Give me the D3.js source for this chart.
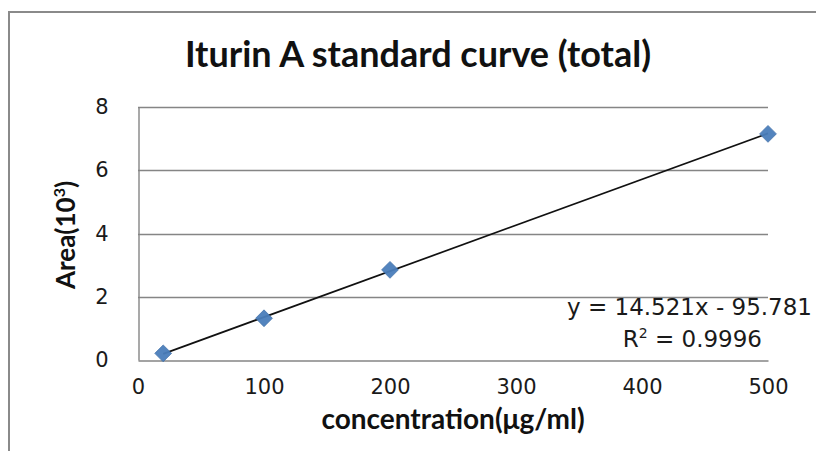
<!DOCTYPE html>
<html><head><meta charset="utf-8">
<script src="https://cdn.jsdelivr.net/npm/d3@7"></script>
<style>html,body{margin:0;padding:0;background:#fff;}svg{display:block;}</style>
</head><body>
<script>
const concentration = [20, 100, 200, 500];
const area = [0.21, 1.32, 2.85, 7.15];
const xTicks = [0, 100, 200, 300, 400, 500];
const yTicks = [0, 2, 4, 6, 8];
const slope = 14.521, intercept = -95.781;
const titleText = "Iturin A standard curve (total)";
const xTitle = "concentration(μg/ml)";
const eqText = "y = 14.521x - 95.781";
const r2Value = "0.9996";

const W = 816, H = 451;
const svg = d3.select("body").append("svg").attr("width", W).attr("height", H);
svg.append("rect").attr("width", W).attr("height", H).attr("fill", "#fff");
// outer frame (extends beyond right/bottom)
svg.append("rect").attr("x", 9).attr("y", 12).attr("width", W + 20).attr("height", H + 20)
  .attr("fill", "none").attr("stroke", "#8a8a8a").attr("stroke-width", 2);

const x = d3.scaleLinear().domain([0, 500]).range([138, 768]);
const y = d3.scaleLinear().domain([0, 8]).range([360, 107]);

// gridlines
svg.append("g").selectAll("line").data(yTicks.filter(d => d > 0)).join("line")
  .attr("x1", x(0)).attr("x2", x(500)).attr("y1", d => Math.round(y(d)) + 0.5).attr("y2", d => Math.round(y(d)) + 0.5)
  .attr("stroke", "#858585").attr("stroke-width", 1.4);

// axes
const xAxis = svg.append("g").attr("transform", `translate(0,${Math.round(y(0)) + 0.5})`)
  .call(d3.axisBottom(x).tickValues(xTicks).tickSize(0).tickPadding(19).tickFormat(d3.format("d")));
xAxis.select(".domain").attr("stroke", "#858585").attr("stroke-width", 1.4);
xAxis.selectAll("text").attr("font-family", "DejaVu Sans, Verdana, sans-serif").attr("font-size", 21).attr("fill", "#1a1a1a");

const yAxis = svg.append("g").attr("transform", `translate(${Math.round(x(0)) + 0.5},0)`)
  .call(d3.axisLeft(y).tickValues(yTicks).tickSize(0).tickPadding(30).tickFormat(d3.format("d")));
yAxis.select(".domain").attr("stroke", "#858585").attr("stroke-width", 1.4);
yAxis.selectAll("text").attr("font-family", "DejaVu Sans, Verdana, sans-serif").attr("font-size", 21).attr("fill", "#1a1a1a");

// trendline
svg.append("line")
  .attr("x1", x(d3.min(concentration))).attr("y1", y((slope * d3.min(concentration) + intercept) / 1000))
  .attr("x2", x(d3.max(concentration))).attr("y2", y((slope * d3.max(concentration) + intercept) / 1000))
  .attr("stroke", "#111").attr("stroke-width", 1.7);

// markers
const diamond = d3.symbol().type(d3.symbolDiamond2).size(180);
svg.append("g").selectAll("path").data(concentration.map((c, i) => [c, area[i]])).join("path")
  .attr("d", diamond).attr("transform", d => `translate(${x(d[0])},${y(d[1])})`)
  .attr("fill", "#4a7ebb").attr("stroke", "#3f6fa8").attr("stroke-width", 0.8).attr("opacity", 0.95);

// title
svg.append("text").attr("x", 418).attr("y", 67).attr("text-anchor", "middle")
  .attr("font-family", "Lato, Calibri, sans-serif").attr("font-weight", "bold").attr("font-size", 36)
  .attr("fill", "#111").text(titleText);

// x title
svg.append("text").attr("x", 453).attr("y", 429).attr("text-anchor", "middle")
  .attr("font-family", "Lato, Calibri, sans-serif").attr("font-weight", "bold").attr("font-size", 28)
  .attr("fill", "#111").text(xTitle);

// y title
const yt = svg.append("text").attr("transform", "translate(75,235) rotate(-90)").attr("text-anchor", "middle")
  .attr("font-family", "Lato, Calibri, sans-serif").attr("font-weight", "bold").attr("font-size", 26).attr("fill", "#111");
yt.append("tspan").text("Area(10");
yt.append("tspan").attr("font-size", 16).attr("dy", -10).text("3");
yt.append("tspan").attr("dy", 10).text(")");

// equation
svg.append("text").attr("x", 812).attr("y", 315).attr("text-anchor", "end")
  .attr("font-family", "DejaVu Sans, Verdana, sans-serif").attr("font-size", 23).attr("fill", "#1a1a1a").text(eqText);
const r2 = svg.append("text").attr("x", 762).attr("y", 347).attr("text-anchor", "end")
  .attr("font-family", "DejaVu Sans, Verdana, sans-serif").attr("font-size", 23).attr("fill", "#1a1a1a");
r2.append("tspan").text("R");
r2.append("tspan").attr("font-size", 14).attr("dy", -9).text("2");
r2.append("tspan").attr("dy", 9).text(" = " + r2Value);
</script>
</body></html>
